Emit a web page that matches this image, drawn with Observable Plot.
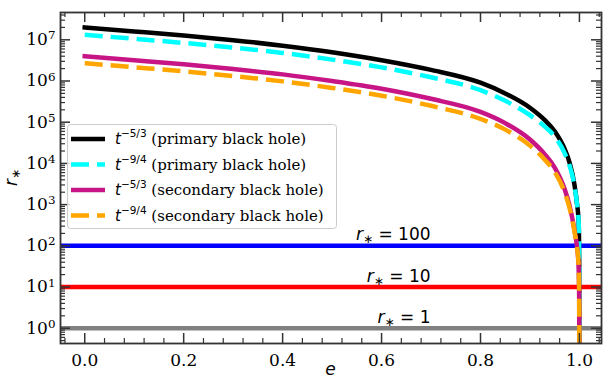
<!DOCTYPE html>
<html>
<head>
<meta charset="utf-8">
<script src="https://cdn.jsdelivr.net/npm/d3@7"></script>
<script src="https://cdn.jsdelivr.net/npm/@observablehq/plot@0.6"></script>
<style>
  html, body { margin: 0; padding: 0; background: #fff; }
  svg { display: block; }
</style>
</head>
<body>
<div id="chart"></div>
<script>
// Eccentricity samples
const ecc = [0, 0.1, 0.2, 0.3, 0.4, 0.5, 0.6, 0.7, 0.8, 0.85, 0.9, 0.93, 0.95, 0.97, 0.98, 0.99, 0.995, 0.998, 0.999, 0.9995, 1.0];

// r_* for each decay law and black hole
const rPrimary53   = [2.0e7, 1.6e7, 1.27e7, 9.8e6, 7.2e6, 5.0e6, 3.2e6, 1.86e6, 9.1e5, 5.0e5, 2.24e5, 1.12e5, 6.0e4, 2.24e4, 1.05e4, 3.0e3, 1.07e3, 450, 200, 40, 0.01];
const rPrimary94   = [1.32e7, 1.06e7, 8.4e6, 6.5e6, 4.8e6, 3.3e6, 2.14e6, 1.23e6, 6.0e5, 3.3e5, 1.48e5, 7.8e4, 4.5e4, 1.78e4, 8.9e3, 2.8e3, 1.07e3, 480, 214, 45, 0.01];
const rSecondary53 = [4.0e6, 3.2e6, 2.54e6, 1.95e6, 1.45e6, 1.0e6, 6.5e5, 3.7e5, 1.78e5, 9.5e4, 3.8e4, 1.66e4, 7.9e3, 2.4e3, 955, 240, 95, 38, 16.6, 5.2, 0.01];
const rSecondary94 = [2.7e6, 2.16e6, 1.72e6, 1.32e6, 9.8e5, 6.8e5, 4.4e5, 2.5e5, 1.2e5, 6.6e4, 2.7e4, 1.23e4, 6.2e3, 2.0e3, 830, 224, 93, 40, 17.8, 5.8, 0.01];

// Series labels
const seriesExponents = ["\u22125/3", "\u22129/4", "\u22125/3", "\u22129/4"];
const seriesNames = ["(primary black hole)", "(primary black hole)", "(secondary black hole)", "(secondary black hole)"];
const seriesColors = ["#000000", "#00ffff", "#c71585", "#ffa500"];
const seriesDashes = [null, "18,8", null, "18,8"];
const seriesValues = [rPrimary53, rPrimary94, rSecondary53, rSecondary94];

// Reference levels
const refLevels = [100, 10, 1];
const refColors = ["#0000ff", "#ff0000", "#808080"];
const refLabelAt = 0.7;

// Tick values
const xMajor = [0, 0.2, 0.4, 0.6, 0.8, 1.0];
const yMajor = [1, 10, 100, 1e3, 1e4, 1e5, 1e6, 1e7];

const W = 606, H = 379;
const mT = 12, mR = 5, mB = 36, mL = 60;
const plotW = W - mL - mR, plotH = H - mT - mB;
const xDomain = [-0.049, 1.0446];
const yDomain = [0.4256, 4.6e7];

const xMinor = d3.range(-1, 27).filter(k => k % 5 !== 0).map(k => +(k * 0.04).toFixed(2));
const yMinor = [];
for (let k = -1; k <= 7; k++) for (let m = 2; m <= 9; m++) {
  const v = m * Math.pow(10, k);
  if (v >= yDomain[0] && v <= yDomain[1]) yMinor.push(v);
}

const tickStroke = "#333";
const MAJ = 10, MIN = 5;

const curveMarks = seriesValues.map((vals, i) =>
  Plot.line(ecc.map((e, j) => ({e, r: vals[j]})), {
    x: "e", y: "r",
    stroke: seriesColors[i],
    strokeWidth: 4.5,
    strokeDasharray: seriesDashes[i] || undefined,
    strokeLinecap: seriesDashes[i] ? "butt" : "square",
    curve: "monotone-x",
    clip: true
  })
);

const refMarks = refLevels.map((v, i) =>
  Plot.ruleY([v], {stroke: refColors[i], strokeWidth: 4.5})
);

const tickMarks = [
  Plot.tickX(xMajor, {x: d => d, insetTop: plotH - MAJ, stroke: tickStroke, strokeWidth: 1.5}),
  Plot.tickX(xMajor, {x: d => d, insetBottom: plotH - MAJ, stroke: tickStroke, strokeWidth: 1.5}),
  Plot.tickX(xMinor, {x: d => d, insetTop: plotH - MIN, stroke: tickStroke, strokeWidth: 1.2}),
  Plot.tickX(xMinor, {x: d => d, insetBottom: plotH - MIN, stroke: tickStroke, strokeWidth: 1.2}),
  Plot.tickY(yMajor, {y: d => d, insetRight: plotW - MAJ, stroke: tickStroke, strokeWidth: 1.5}),
  Plot.tickY(yMajor, {y: d => d, insetLeft: plotW - MAJ, stroke: tickStroke, strokeWidth: 1.5}),
  Plot.tickY(yMinor, {y: d => d, insetRight: plotW - MIN, stroke: tickStroke, strokeWidth: 1.2}),
  Plot.tickY(yMinor, {y: d => d, insetLeft: plotW - MIN, stroke: tickStroke, strokeWidth: 1.2})
];

const chart = Plot.plot({
  width: W, height: H,
  marginTop: mT, marginRight: mR, marginBottom: mB, marginLeft: mL,
  style: {fontFamily: "DejaVu Serif", fontSize: "17px", color: "#000", background: "#fff"},
  x: {domain: xDomain, label: null},
  y: {type: "log", domain: yDomain, label: null},
  marks: [
    ...refMarks,
    ...curveMarks,
    ...tickMarks,
    Plot.frame({stroke: tickStroke, strokeWidth: 1.8}),
    Plot.axisX({ticks: xMajor, tickSize: 0, tickPadding: 10, tickFormat: d3.format(".1f"), label: null}),
    Plot.axisY({ticks: yMajor, tickSize: 0, tickPadding: 5, tickFormat: d => "10^" + Math.round(Math.log10(d)), label: null})
  ]
});

document.getElementById("chart").appendChild(chart);
const svg = d3.select(chart.tagName.toLowerCase() === "svg" ? chart : chart.querySelector("svg"));
const xs = chart.scale("x"), ys = chart.scale("y");

// Power-of-ten tick labels with a raised exponent
svg.selectAll("text").each(function () {
  const m = /^10\^(-?\d+)$/.exec(this.textContent);
  if (!m) return;
  const t = d3.select(this);
  t.text(null);
  t.append("tspan").text("10");
  t.append("tspan").attr("dy", "-0.5em").attr("font-size", "0.7em").text(m[1]);
});

const sans = "DejaVu Sans";

// r_* = N labels above each reference line
refLevels.forEach(v => {
  const t = svg.append("text")
    .attr("x", xs.apply(refLabelAt))
    .attr("y", ys.apply(v) - 5)
    .attr("text-anchor", "end")
    .attr("font-family", sans)
    .attr("font-size", 17)
    .attr("fill", "#000");
  t.append("tspan").attr("font-style", "italic").text("r");
  t.append("tspan").attr("font-size", 12).attr("dy", 3).text("\u2217");
  t.append("tspan").attr("dy", -3).text(" = " + v);
});

// Axis titles
svg.append("text")
  .attr("x", mL + plotW / 2).attr("y", H - 4)
  .attr("text-anchor", "middle").attr("font-family", sans).attr("font-size", 17)
  .attr("font-style", "italic").text("e");

const yl = svg.append("text")
  .attr("transform", `translate(${17},${mT + plotH / 2}) rotate(-90)`)
  .attr("text-anchor", "middle").attr("font-family", sans).attr("font-size", 17);
yl.append("tspan").attr("font-style", "italic").text("r");
yl.append("tspan").attr("font-size", 12).attr("dy", 3).text("\u2217");

// Legend
const lg = svg.append("g").attr("class", "legend");
lg.append("rect")
  .attr("x", 67.5).attr("y", 124.5).attr("width", 269).attr("height", 104).attr("rx", 3)
  .attr("fill", "#fff").attr("fill-opacity", 0.8).attr("stroke", "#cccccc").attr("stroke-width", 1);
const rowY = [139, 164.5, 190, 215.5];
seriesValues.forEach((_, i) => {
  const y = rowY[i];
  lg.append("line")
    .attr("x1", 71).attr("x2", 105).attr("y1", y).attr("y2", y)
    .attr("stroke", seriesColors[i]).attr("stroke-width", 4.5)
    .attr("stroke-dasharray", seriesDashes[i]);
  const t = lg.append("text").attr("x", 115).attr("y", y + 5)
    .attr("text-anchor", "start").attr("fill", "#000").attr("font-size", 15);
  t.append("tspan").attr("font-family", sans).attr("font-style", "italic").text("t");
  t.append("tspan").attr("font-family", sans).attr("font-size", 10.5).attr("dy", -7).text(seriesExponents[i]);
  t.append("tspan").attr("font-family", "DejaVu Serif").attr("dy", 7).text(" " + seriesNames[i]);
});
</script>
</body>
</html>
